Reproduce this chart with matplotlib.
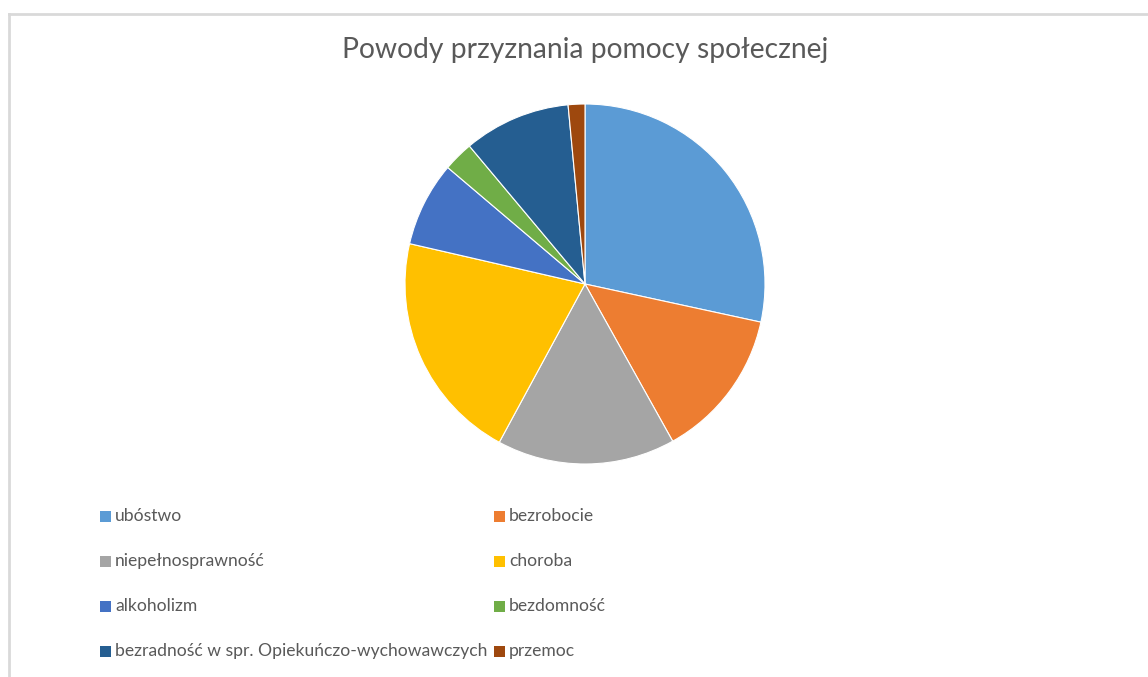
import matplotlib
matplotlib.use("Agg")
import matplotlib.pyplot as plt
from matplotlib.patches import Rectangle
from matplotlib.lines import Line2D

# dane (udział w %)
kategorie = ["ubóstwo", "bezrobocie", "niepełnosprawność", "choroba",
             "alkoholizm", "bezdomność",
             "bezradność w spr. Opiekuńczo-wychowawczych", "przemoc"]
udzialy = [28.4, 13.5, 16.0, 20.7, 7.6, 2.7, 9.6, 1.5]
kolory = ["#5B9BD5", "#ED7D31", "#A5A5A5", "#FFC000",
          "#4472C4", "#70AD47", "#255E91", "#9E480E"]
tytul = "Powody przyznania pomocy społecznej"

W, H = 1148, 677
plt.rcParams['font.family'] = ['Lato', 'DejaVu Sans']
fig = plt.figure(figsize=(W / 100, H / 100), dpi=100)

# obramowanie (tylko gora i lewa strona widoczne)
fig.add_artist(Line2D([9 / W, 9 / W], [0, 1 - 14 / H], transform=fig.transFigure,
                      color="#D9D9D9", lw=2))
fig.add_artist(Line2D([9 / W, 1], [1 - 14 / H, 1 - 14 / H], transform=fig.transFigure,
                      color="#D9D9D9", lw=2))

# kolo
cx, cy, r = 585, 284, 180
ax = fig.add_axes([(cx - r) / W, (H - cy - r) / H, 2 * r / W, 2 * r / H])
ax.pie(udzialy, colors=kolory, startangle=90, counterclock=False,
       wedgeprops=dict(edgecolor="white", linewidth=0.8))
ax.set_xlim(-1, 1)
ax.set_ylim(-1, 1)
ax.set_aspect("equal")

fig.text(cx / W, 1 - 58 / H, tytul, ha="center", va="baseline",
         fontsize=20.3, color="#595959")

# legenda w dwoch kolumnach
kol_x = [100, 494]
wiersz_y = [516, 561, 606, 651]
sq = 11
for i, (lab, col) in enumerate(zip(kategorie, kolory)):
    x = kol_x[i % 2]
    y = wiersz_y[i // 2]
    fig.add_artist(Rectangle((x / W, 1 - (y + sq / 2) / H), sq / W, sq / H,
                             transform=fig.transFigure, facecolor=col,
                             edgecolor="none"))
    fig.text((x + sq + 4) / W, 1 - y / H, lab, ha="left", va="center",
             fontsize=12.6, color="#595959")

fig.savefig("out.png", dpi=100)
